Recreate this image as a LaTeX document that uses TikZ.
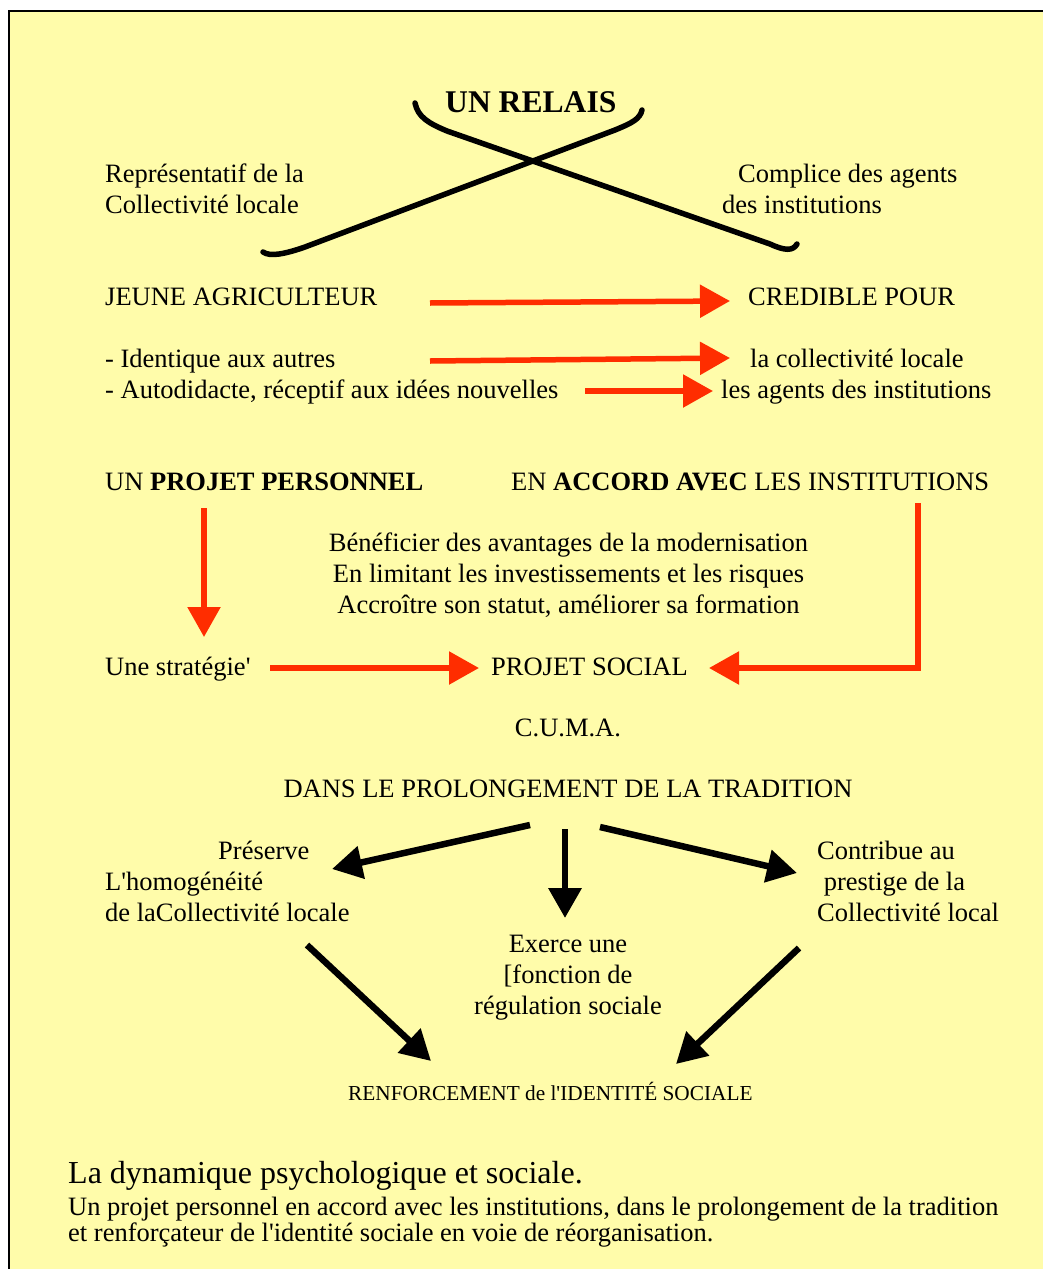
\documentclass[tikz,border=0pt]{standalone}
\usepackage{fontspec}
\setmainfont{Liberation Serif}[Ligatures=TeXOff]
\usetikzlibrary{arrows.meta}
\definecolor{bg}{RGB}{255,252,170}
\definecolor{redarr}{RGB}{255,45,0}
\begin{document}
\begin{tikzpicture}[x=1pt,y=-1pt,
  txt/.style={inner sep=0pt,anchor=base west,font=\fontsize{26.5}{31}\selectfont},
  ctxt/.style={txt,anchor=base},
  redarrow/.style={draw=redarr,line width=5.5pt,-{Triangle[length=30pt,width=32pt]}},
  blackarrow/.style={draw=black,line width=6.5pt,-{Triangle[length=30pt,width=32pt]}},
  xline/.style={draw=black,line width=5.5pt,line cap=round}]
\useasboundingbox (0,0) rectangle (1043,1269);
\clip (0,0) rectangle (1043,1269);
\fill[white] (0,0) rectangle (1043,1269);
\draw[line width=2.5pt,fill=bg] (9,11) rectangle (1060,1290);

% title and crossing
\node[txt,font=\fontsize{31.6}{36}\bfseries] (relais) at (445,112) {UN RELAIS};
\draw[xline] (415,103) .. controls (418,117) and (428,123) .. (447,131) -- (770,244)
   .. controls (785,251) and (793,251) .. (797,244);
\draw[xline] (263,252) .. controls (270,257) and (285,254) .. (305,247) -- (615,130)
   .. controls (632,123) and (640,119) .. (642,110);

\node[txt] (rep1) at (105,182) {Représentatif de la};
\node[txt] (rep2) at (105,213) {Collectivité locale};
\node[txt] (comp1) at (738,182) {Complice des agents};
\node[txt] (comp2) at (722,213) {des institutions};

\node[txt] (jeune) at (105,305) {JEUNE AGRICULTEUR};
\node[txt] (credible) at (748,305) {CREDIBLE POUR};
\node[txt] (ident) at (105,367) {- Identique aux autres};
\node[txt] (auto) at (105,398) {- Autodidacte, réceptif aux idées nouvelles};
\node[txt] (collec) at (750,367) {la collectivité locale};
\node[txt] (agents) at (721,398) {les agents des institutions};

\coordinate (a1s) at (430,303); \coordinate (a1e) at (730,301);
\coordinate (a2s) at (430,361); \coordinate (a2e) at (730,358);
\coordinate (a3s) at (585,391); \coordinate (a3e) at (713,391);
\draw[redarrow] (a1s) -- (a1e);
\draw[redarrow] (a2s) -- (a2e);
\draw[redarrow] (a3s) -- (a3e);

\node[txt] (projet) at (105,490) {UN \textbf{PROJET PERSONNEL}};
\node[txt] (accord) at (511,490) {EN \textbf{ACCORD AVEC} LES INSTITUTIONS};

\node[ctxt] (ben1) at (568.5,551) {Bénéficier des avantages de la modernisation};
\node[ctxt] (ben2) at (568.5,582) {En limitant les investissements et les risques};
\node[ctxt] (ben3) at (568.5,613) {Accroître son statut, améliorer sa formation};

\node[txt] (strat) at (105,675) {Une stratégie'};
\node[txt] (social) at (491,675) {PROJET SOCIAL};

\coordinate (d1s) at (204,508); \coordinate (d1e) at (204,637);
\draw[redarrow] (d1s) -- (d1e);
\coordinate (s1s) at (270,668); \coordinate (s1e) at (479,668);
\draw[redarrow] (s1s) -- (s1e);
\coordinate (r1s) at (918,503); \coordinate (r1c) at (918,668); \coordinate (r1e) at (709,668);
\draw[redarrow] (r1s) -- (r1c) -- (r1e);

\node[ctxt] (cuma) at (568,736) {C.U.M.A.};
\node[ctxt] (dans) at (568,797) {DANS LE PROLONGEMENT DE LA TRADITION};

\node[txt] (pres1) at (218,859) {Préserve};
\node[txt] (pres2) at (105,890) {L'homogénéité};
\node[txt] (pres3) at (105,921) {de laCollectivité locale};
\node[txt] (cont1) at (817,859) {Contribue au};
\node[txt] (cont2) at (817,890) {\ prestige de la};
\node[txt] (cont3) at (817,921) {Collectivité local};
\node[ctxt] (exe1) at (568,952) {Exerce une};
\node[ctxt] (exe2) at (568,983) {[fonction de};
\node[ctxt] (exe3) at (568,1014) {régulation sociale};

\coordinate (b1s) at (530,825); \coordinate (b1e) at (332,869);
\coordinate (b2s) at (565,829); \coordinate (b2e) at (565,918);
\coordinate (b3s) at (600,827); \coordinate (b3e) at (797,873);
\coordinate (b4s) at (307,945); \coordinate (b4e) at (431,1061);
\coordinate (b5s) at (799,948); \coordinate (b5e) at (676,1064);
\draw[blackarrow] (b1s) -- (b1e);
\draw[blackarrow] (b2s) -- (b2e);
\draw[blackarrow] (b3s) -- (b3e);
\draw[blackarrow] (b4s) -- (b4e);
\draw[blackarrow] (b5s) -- (b5e);

\node[txt,font=\fontsize{21.3}{25}\selectfont] (renf) at (348,1100) {RENFORCEMENT de l'IDENTITÉ SOCIALE};

\node[txt,font=\fontsize{32}{36}\selectfont] (dyn) at (68,1183) {La dynamique psychologique et sociale.};
\node[txt,font=\fontsize{26.5}{26}\selectfont] (par1) at (68,1215) {Un projet personnel en accord avec les institutions, dans le prolongement de la tradition};
\node[txt,font=\fontsize{26.5}{26}\selectfont] (par2) at (68,1241) {et renforçateur de l'identité sociale en voie de réorganisation.};
\end{tikzpicture}
\end{document}
